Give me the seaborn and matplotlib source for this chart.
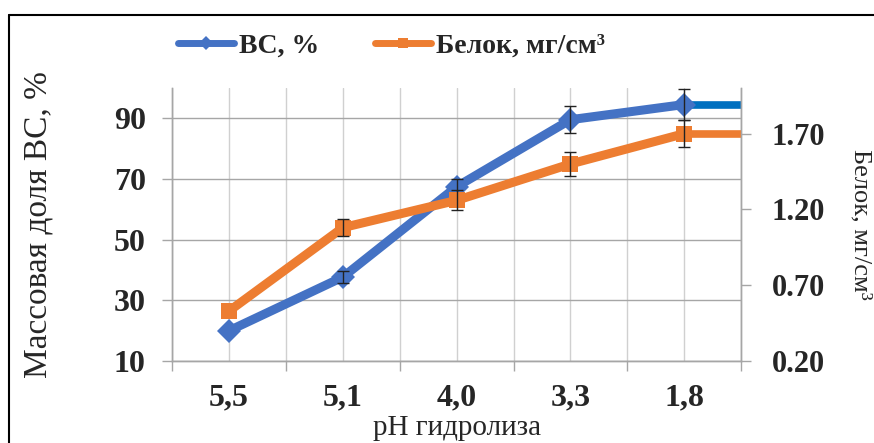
import matplotlib
matplotlib.use("Agg")
import matplotlib.pyplot as plt
from matplotlib.lines import Line2D
from matplotlib.ticker import FixedLocator
import numpy as np
import pandas as pd
import seaborn as sns

# data (no error bar shown at pH 5,5)
ph_labels = ["5,5", "5,1", "4,0", "3,3", "1,8"]
bc_percent = [20, 37.7, 67.5, 89.6, 94.6]
bc_err = [np.nan, 2.0, 2.5, 4.4, 5.0]
protein = [0.53, 1.08, 1.26, 1.50, 1.70]
protein_err = [np.nan, 0.056, 0.065, 0.077, 0.09]

BLUE = "#4472C4"
BLUE_DARK = "#0070C0"
ORANGE = "#ED7D31"

sns.set_theme(style="white")
plt.rcParams["font.family"] = ["Liberation Serif", "DejaVu Serif"]

df = pd.DataFrame({
    "pos": np.arange(len(ph_labels)),
    "bc": bc_percent,
    "protein": protein,
})

fig = plt.figure(figsize=(8.74, 4.43), dpi=100)
ax = fig.add_axes([0.197, 0.185, 0.651, 0.616])
ax2 = ax.twinx()

# left axis: ВС, %
sns.lineplot(data=df, x="pos", y="bc", ax=ax, color=BLUE, linewidth=6.5,
             marker="D", markersize=12, markeredgewidth=0, sort=False,
             label="ВС, %", legend=False, zorder=3)
ax.errorbar(df["pos"], df["bc"], yerr=bc_err, fmt="none", ecolor="#222222",
            elinewidth=1, capsize=4, capthick=1, zorder=4)
ax.hlines(bc_percent[-1], df["pos"].iloc[-1], len(ph_labels) - 0.5,
          color=BLUE_DARK, linewidth=5.5, zorder=2)

# right axis: Белок
sns.lineplot(data=df, x="pos", y="protein", ax=ax2, color=ORANGE, linewidth=6.5,
             marker="s", markersize=11, markeredgewidth=0, sort=False,
             label="Белок, мг/см³", legend=False, zorder=3)
ax2.errorbar(df["pos"], df["protein"], yerr=protein_err, fmt="none",
             ecolor="#222222", elinewidth=1, capsize=4, capthick=1, zorder=4)
ax2.hlines(protein[-1], df["pos"].iloc[-1], len(ph_labels) - 0.5,
           color=ORANGE, linewidth=5.5, zorder=2)

# axes limits and ticks
ax.set_xlim(-0.5, len(ph_labels) - 0.5)
ax.set_ylim(10, 100)
ax2.set_ylim(0.2, 2.0)
ax.set_yticks([10, 30, 50, 70, 90])
ax2.set_yticks([0.2, 0.7, 1.2, 1.7])
ax2.set_yticklabels(["0.20", "0.70", "1.20", "1.70"])

ax.xaxis.set_major_locator(FixedLocator(np.arange(-0.5, len(ph_labels), 1.0)))
ax.xaxis.set_minor_locator(FixedLocator(np.arange(len(ph_labels))))
ax.set_xticklabels([], minor=False)
ax.set_xticklabels(ph_labels, minor=True, fontsize=23, fontweight="bold")
ax.tick_params(axis="x", which="major", direction="out", length=7, width=1,
               color="#A6A6A6", bottom=True)
ax.tick_params(axis="x", which="minor", length=0, pad=16, bottom=True)

ax.tick_params(axis="y", direction="out", length=7, width=1, color="#A6A6A6",
               labelsize=23, pad=12, left=True)
for t in ax.get_yticklabels():
    t.set_fontweight("bold")
ax2.tick_params(axis="y", direction="out", length=7, width=1, color="#A6A6A6",
                labelsize=22, pad=15, right=True)
for t in ax2.get_yticklabels():
    t.set_fontweight("bold")

# gridlines
ax.grid(True, axis="y", color="#A6A6A6", linewidth=1)
ax.grid(True, axis="x", which="both", color="#D0D0D0", linewidth=1)
ax.set_axisbelow(True)

for a in (ax, ax2):
    a.spines["top"].set_visible(False)
    for s in ("left", "right", "bottom"):
        a.spines[s].set_color("#A6A6A6")
        a.spines[s].set_linewidth(1)

ax.set_xlabel("pH гидролиза", fontsize=21, va="center")
ax.xaxis.set_label_coords(0.5, -0.245)
ax.set_ylabel("Массовая доля ВС, %", fontsize=24, va="center")
ax.yaxis.set_label_coords(-0.236, 0.5)
ax2.set_ylabel("Белок, мг/см³", fontsize=19, rotation=270, va="center")
ax2.yaxis.set_label_coords(1.21, 0.5)

# legend at the top
handles = [
    Line2D([], [], color=BLUE, linewidth=5, marker="D", markersize=7,
           markeredgewidth=0),
    Line2D([], [], color=ORANGE, linewidth=5, marker="s", markersize=7,
           markeredgewidth=0),
]
fig.legend(handles, ["ВС, %", "Белок, мг/см³"], loc="center",
           bbox_to_anchor=(0.448, 0.897), ncol=2, frameon=False,
           prop={"size": 20, "weight": "bold"}, handlelength=2.0,
           handletextpad=0.2, columnspacing=2.0)

# chart frame (top and left edges visible in the crop)
fig.add_artist(Line2D([0.01, 1.0], [0.966, 0.966], color="black", linewidth=1.5,
                      transform=fig.transFigure))
fig.add_artist(Line2D([0.01, 0.01], [0.0, 0.966], color="black", linewidth=1.5,
                      transform=fig.transFigure))

fig.savefig("out.png", dpi=100)
plt.close(fig)
